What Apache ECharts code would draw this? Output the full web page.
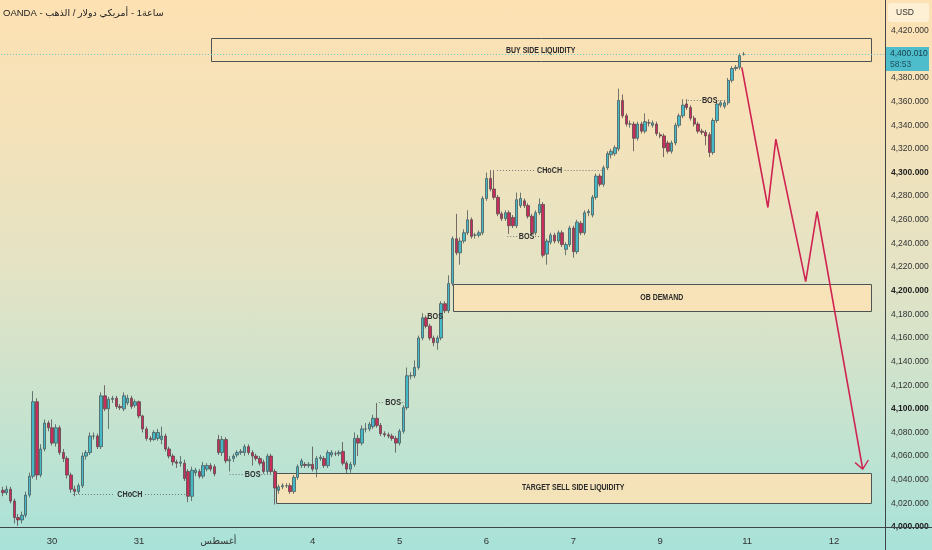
<!DOCTYPE html>
<html>
<head>
<meta charset="utf-8">
<script src="https://cdn.jsdelivr.net/npm/echarts/dist/echarts.min.js"></script>
<style>
html,body{margin:0;padding:0;width:932px;height:550px;overflow:hidden;
background:linear-gradient(180deg,#fde1b3 0%,#f5e2b9 22%,#e3e3c5 50%,#c6e3cf 76%,#a8e2d9 100%);}
#c{width:932px;height:550px;}
</style>
</head>
<body>
<div id="c"></div>
<script>
// ---- data ----
const titleText = 'OANDA - الذهب\u200E / دولار\u200E أمريكي\u200E - 1ساعة';
const lastPrice = 4400.010;
const countdown = '58:53';
const slotCount = 234;
const dayLabels = ['30', '31', 'أغسطس', '4', '5', '6', '7', '9', '11', '12'];
const dayLabelIndex = [13, 36, 57, 82, 105, 128, 151, 174, 197, 220];

// candles: [open, close, low, high]
const ohlc = [
[4031,4029,4026,4034],[4029,4032,4027,4035],[4032,4022,4020,4034],[4022,4008,4003,4024],[4008,4006,4001,4011],
[4006,4010,4003,4013],[4010,4027,4008,4030],[4027,4043,4025,4046],[4043,4106,4041,4115],[4106,4044,4040,4109],
[4044,4066,4042,4070],[4066,4088,4064,4091],[4088,4084,4081,4090],[4084,4071,4069,4091],[4071,4084,4068,4087],
[4084,4063,4061,4086],[4063,4058,4055,4066],[4058,4044,4041,4060],[4044,4032,4029,4046],[4032,4030,4026,4035],
[4030,4035,4028,4037],[4035,4060,4033,4063],[4060,4063,4057,4065],[4063,4077,4061,4080],[4077,4077,4074,4080],
[4077,4068,4066,4079],[4068,4111,4066,4114],[4111,4100,4098,4120],[4100,4108,4083,4110],[4108,4109,4105,4111],
[4109,4102,4100,4111],[4102,4101,4099,4104],[4100,4111,4098,4114],[4105,4109,4103,4112],[4109,4102,4100,4111],
[4103,4106,4101,4108],[4106,4094,4092,4107],[4094,4083,4080,4095],[4083,4075,4073,4085],[4075,4074,4072,4077],
[4074,4080,4073,4082],[4075,4080,4073,4083],[4074,4077,4070,4085],[4077,4066,4064,4079],[4066,4060,4058,4068],
[4060,4055,4052,4062],[4055,4054,4050,4057],[4054,4055,4051,4060],[4054,4041,4039,4057],[4047,4026,4021,4049],
[4026,4048,4022,4051],[4046,4048,4043,4050],[4047,4043,4041,4049],[4043,4052,4041,4055],[4049,4052,4047,4054],
[4052,4049,4047,4054],[4051,4045,4043,4053],[4074,4063,4061,4078],[4063,4074,4060,4077],[4074,4056,4054,4076],
[4056,4057,4047,4060],[4058,4060,4055,4062],[4061,4063,4059,4065],[4063,4064,4061,4066],[4063,4068,4060,4070],
[4068,4063,4061,4070],[4063,4060,4052,4065],[4060,4058,4056,4062],[4058,4054,4052,4060],[4055,4047,4045,4057],
[4047,4060,4045,4062],[4060,4047,4045,4062],[4047,4033,4019,4049],[4031,4034,4028,4036],[4034,4035,4032,4037],
[4035,4035,4033,4037],[4035,4030,4028,4037],[4030,4042,4028,4044],[4042,4051,4040,4053],
[4052,4056,4050,4058],[4053,4052,4050,4055],[4052,4053,4050,4055],[4053,4049,4047,4068],[4049,4058,4042,4060],
[4058,4059,4056,4061],[4058,4052,4050,4060],[4052,4063,4050,4065],[4061,4063,4059,4065],[4062,4062,4060,4064],
[4062,4063,4060,4065],[4064,4054,4052,4072],[4054,4049,4045,4056],[4049,4053,4046,4055],[4053,4075,4051,4080],
[4075,4071,4060,4078],[4071,4083,4069,4086],[4083,4083,4080,4088],[4083,4087,4081,4089],[4085,4092,4083,4095],
[4092,4086,4084,4105],[4086,4079,4077,4088],[4079,4078,4076,4081],[4078,4077,4075,4080],[4077,4075,4073,4079],
[4075,4071,4063,4077],[4071,4081,4069,4083],[4081,4101,4079,4103],[4101,4128,4099,4135],
[4128,4128,4125,4131],[4128,4135,4126,4141],[4135,4160,4133,4162],[4160,4177,4158,4181],[4177,4170,4168,4179],
[4170,4160,4158,4172],[4160,4156,4153,4162],[4156,4160,4150,4162],[4160,4189,4158,4191],[4189,4183,4181,4191],
[4183,4206,4181,4213],[4206,4244,4204,4246],[4244,4232,4230,4265],[4232,4242,4222,4245],[4242,4249,4240,4252],
[4249,4260,4247,4268],[4260,4246,4244,4262],[4247,4247,4244,4249],[4247,4249,4245,4251],[4249,4278,4247,4280],
[4278,4295,4276,4300],[4295,4286,4284,4302],[4286,4279,4277,4302],[4279,4265,4263,4281],[4265,4261,4259,4267],
[4261,4266,4259,4268],[4266,4255,4248,4268],[4262,4255,4253,4264],[4255,4277,4253,4283],[4272,4278,4270,4283],
[4276,4272,4270,4278],[4272,4263,4261,4274],[4263,4249,4247,4265],[4249,4266,4247,4268],[4266,4273,4264,4278],
[4273,4230,4228,4275],[4231,4242,4222,4244],[4241,4247,4239,4249],[4247,4242,4240,4249],[4242,4249,4240,4251],
[4249,4239,4237,4251],[4235,4239,4230,4241],[4239,4253,4237,4255],[4253,4233,4228,4255],[4233,4258,4231,4260],
[4257,4249,4247,4259],[4249,4266,4247,4268],[4266,4267,4263,4269],[4264,4279,4262,4281],[4279,4297,4277,4299],
[4297,4290,4288,4299],[4290,4304,4288,4306],[4304,4316,4302,4318],
[4315,4318,4312,4320],[4316,4321,4314,4323],[4320,4361,4318,4371],[4361,4348,4346,4366],[4348,4341,4339,4350],
[4341,4341,4338,4344],[4341,4329,4318,4343],[4329,4341,4327,4343],[4341,4335,4333,4343],[4335,4343,4333,4350],
[4342,4342,4339,4345],[4340,4342,4338,4344],[4341,4333,4331,4343],[4332,4331,4329,4334],[4331,4321,4313,4333],
[4325,4318,4316,4327],[4318,4325,4316,4327],[4325,4340,4323,4342],[4340,4348,4338,4350],[4348,4357,4346,4362],
[4358,4355,4353,4362],[4355,4346,4344,4357],[4346,4341,4339,4348],[4341,4335,4333,4343],[4335,4334,4332,4337],
[4334,4331,4323,4336],[4332,4317,4313,4334],[4317,4344,4315,4346],[4344,4358,4342,4360],[4357,4359,4355,4361],
[4356,4359,4354,4361],[4359,4378,4357,4380],[4378,4388,4376,4390],[4388,4389,4386,4391],[4389,4399,4387,4401],
[4400,4400.01,4399,4402]
];

// zones (slot positions on the time scale, prices)
const zoneNames = ['BUY SIDE LIQUIDITY', 'OB DEMAND', 'TARGET SELL SIDE LIQUIDITY'];
const zoneStart = [55.5, 119.6, 72.7];
const zoneEnd = [230.2, 230.2, 230.2];
const zoneHigh = [4413.5, 4206.0, 4046.0];
const zoneLow = [4393.8, 4183.5, 4020.6];

// structure annotations
const annoText = ['CHoCH', 'CHoCH', 'BOS', 'BOS', 'BOS', 'BOS', 'BOS'];
const annoStart = [19.0, 131.3, 60.5, 100.0, 114.9, 134.0, 181.8];
const annoEnd = [49.4, 160.0, 72.7, 107.9, 114.9, 143.7, 192.6];
const annoTextPos = [34.1, 145.2, 66.6, 103.8, 114.9, 139.1, 187.6];
const annoPrice = [4027.7, 4302.3, 4045.0, 4106.1, 4178.7, 4246.4, 4361.6];

// projected path
const projX = [196.1, 203.0, 205.1, 213.0, 216.0, 228.1];
const projY = [4389.0, 4270.4, 4328.3, 4207.7, 4267.0, 4048.9];
const arrowX = [226.1, 228.1, 229.6];
const arrowY = [4054.5, 4048.9, 4056.7];

// ---- build ----
const categories = [];
for (let i = 0; i < slotCount; i++) categories.push('');
dayLabelIndex.forEach((idx, k) => { categories[idx] = dayLabels[k]; });

function fmtPrice(v) {
  const s = v.toFixed(3).split('.');
  return s[0].replace(/\B(?=(\d{3})+(?!\d))/g, ',') + '.' + s[1];
}

const zoneData = zoneNames.map((n, i) => [zoneStart[i], zoneHigh[i], zoneEnd[i], zoneLow[i]]);
const annoData = annoText.map((t, i) => [annoTextPos[i], annoPrice[i], annoStart[i], annoEnd[i]]);
const projData = projX.map((x, i) => [x, projY[i]]);
const arrowData = arrowX.map((x, i) => [x, arrowY[i]]);

const FONT = '"Liberation Sans",Arial,sans-serif';
const AXFONT = '"Liberation Sans","DejaVu Sans",sans-serif';

const chart = echarts.init(document.getElementById('c'), null, {renderer: 'canvas'});
chart.setOption({
  backgroundColor: 'transparent',
  animation: false,
  title: {
    text: titleText, left: 3, top: 8, padding: 0,
    textStyle: {fontSize: 9.5, fontWeight: 'normal', color: '#222', fontFamily: AXFONT}
  },
  grid: {left: 0, right: 47, top: 0, bottom: 23},
  xAxis: [{
    type: 'category', data: categories, boundaryGap: true,
    axisLine: {show: false}, axisTick: {show: false}, splitLine: {show: false},
    axisLabel: {interval: 0, fontSize: 9.5, color: '#333', margin: 9, fontFamily: AXFONT}
  }, {
    type: 'value', min: 0, max: slotCount, show: false
  }],
  yAxis: [{
    type: 'value', position: 'right', min: 4000, max: 4446, interval: 20,
    axisLine: {show: false}, axisTick: {show: false}, splitLine: {show: false},
    axisLabel: {
      margin: 6, fontSize: 8.5, color: '#333', fontFamily: AXFONT,
      formatter: function (v) {
        if (v > 4420.5 || Math.abs(v - 4400) < 0.5) return '';
        const s = fmtPrice(v);
        return (Math.round(v) % 100 === 0) ? '{b|' + s + '}' : s;
      },
      rich: {b: {fontWeight: 'bold', fontSize: 8.5, color: '#1e1e1e', fontFamily: AXFONT}}
    }
  }],
  series: [{
    type: 'custom', xAxisIndex: 1, yAxisIndex: 0, z: 1, silent: true,
    data: zoneData,
    renderItem: function (params, api) {
      const p0 = api.coord([api.value(0), api.value(1)]);
      const p1 = api.coord([api.value(2), api.value(3)]);
      return {
        type: 'group', children: [{
          type: 'rect',
          shape: {x: Math.round(p0[0]) + 0.5, y: Math.round(p0[1]) + 0.5, width: Math.round(p1[0] - p0[0]), height: Math.round(p1[1] - p0[1])},
          style: {fill: 'rgba(250,226,182,0.92)', stroke: '#4d5454', lineWidth: 1}
        }, {
          type: 'text',
          x: (p0[0] + p1[0]) / 2, y: (p0[1] + p1[1]) / 2 + 0.5, scaleX: 0.82,
          style: {
            text: zoneNames[params.dataIndex], x: 0, y: 0,
            align: 'center', verticalAlign: 'middle',
            font: 'bold 8.5px ' + FONT, fill: '#2b2b2b'
          }
        }]
      };
    }
  }, {
    type: 'candlestick', xAxisIndex: 0, yAxisIndex: 0, z: 3,
    data: ohlc, barWidth: '78%',
    itemStyle: {color: '#44b9c9', color0: '#c92d5b', borderColor: '#4b5a5c', borderColor0: '#5a4a4e', borderWidth: 0.8},
    markLine: {
      silent: true, symbol: ['none', 'none'], label: {show: false},
      lineStyle: {color: '#62c6cd', type: [1, 2], width: 1},
      data: [{yAxis: lastPrice}]
    }
  }, {
    type: 'custom', xAxisIndex: 1, yAxisIndex: 0, z: 4, silent: true,
    data: annoData,
    renderItem: function (params, api) {
      const t = api.coord([api.value(0), api.value(1)]);
      const a = api.coord([api.value(2), api.value(1)]);
      const b = api.coord([api.value(3), api.value(1)]);
      const txt = annoText[params.dataIndex];
      const gap = txt === 'BOS' ? 8.5 : 15;
      const y = Math.round(t[1]) + 0.5;
      const ch = [];
      if (t[0] - gap > a[0]) ch.push({type: 'line', shape: {x1: a[0], y1: y, x2: t[0] - gap, y2: y}, style: {stroke: '#6f7676', lineWidth: 1, lineDash: [1, 2]}});
      if (b[0] > t[0] + gap) ch.push({type: 'line', shape: {x1: t[0] + gap, y1: y, x2: b[0], y2: y}, style: {stroke: '#6f7676', lineWidth: 1, lineDash: [1, 2]}});
      ch.push({type: 'text', x: t[0], y: t[1] + 0.5, scaleX: 0.76,
        style: {text: txt, x: 0, y: 0, align: 'center', verticalAlign: 'middle', font: 'bold 9.5px ' + FONT, fill: '#2e2e2e'}});
      return {type: 'group', children: ch};
    }
  }, {
    type: 'line', xAxisIndex: 1, yAxisIndex: 0, z: 5, silent: true,
    data: projData, symbol: 'none',
    lineStyle: {color: '#cf2452', width: 1.6}
  }, {
    type: 'line', xAxisIndex: 1, yAxisIndex: 0, z: 5, silent: true,
    data: arrowData, symbol: 'none',
    lineStyle: {color: '#cf2452', width: 1.4}
  }],
  graphic: [
    {type: 'line', shape: {x1: 885.5, y1: 0, x2: 885.5, y2: 550}, style: {stroke: '#3f4446', lineWidth: 1}, z: 10},
    {type: 'line', shape: {x1: 0, y1: 527.5, x2: 932, y2: 527.5}, style: {stroke: '#3f4446', lineWidth: 1}, z: 10},
    {type: 'rect', shape: {x: 888, y: 3, width: 41, height: 19, r: 3}, style: {fill: '#fdf0d4'}, z: 10},
    {type: 'text', style: {text: 'USD', x: 896, y: 12.5, verticalAlign: 'middle', font: '8.5px ' + AXFONT, fill: '#333'}, z: 11},
    {type: 'rect', shape: {x: 886, y: 47, width: 43, height: 24}, style: {fill: '#4dbdcb'}, z: 10},
    {type: 'text', style: {text: fmtPrice(lastPrice), x: 890, y: 54, verticalAlign: 'middle', font: '8.5px ' + AXFONT, fill: '#173c48'}, z: 11},
    {type: 'text', style: {text: countdown, x: 890, y: 65, verticalAlign: 'middle', font: '8.5px ' + AXFONT, fill: '#235260'}, z: 11}
  ]
});
</script>
</body>
</html>
